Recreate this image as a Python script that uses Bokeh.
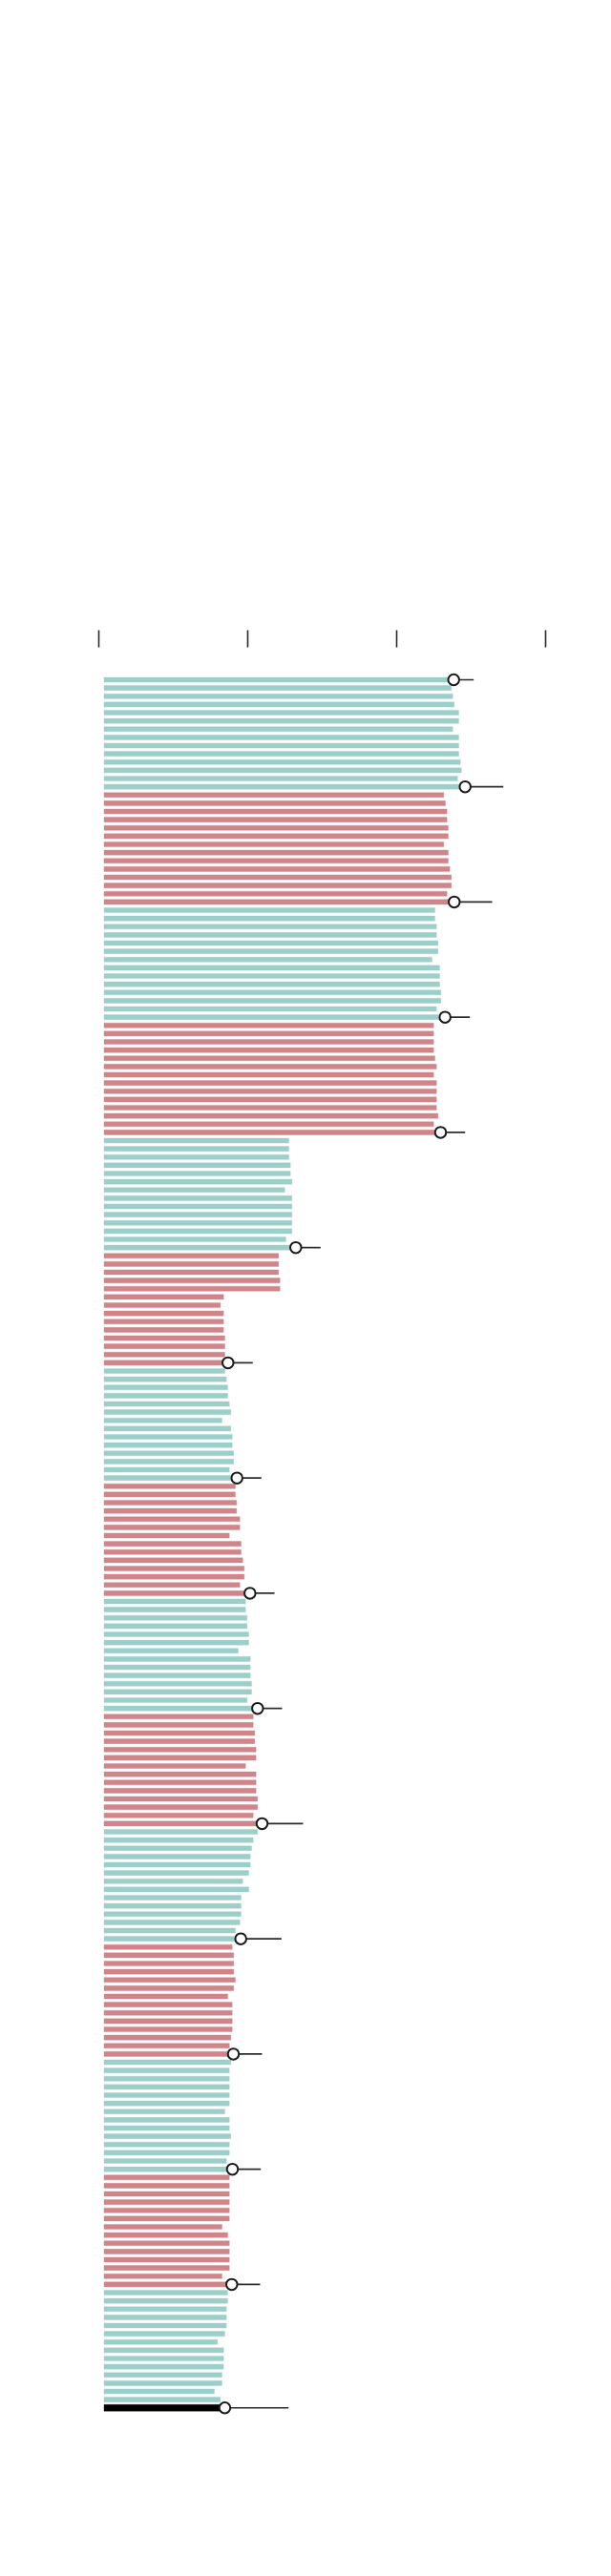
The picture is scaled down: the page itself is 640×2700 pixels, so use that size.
from bokeh.plotting import figure
from bokeh.models import Range1d, LinearAxis, FixedTicker, ColumnDataSource
from bokeh.embed import file_html
from bokeh.resources import INLINE

# ---- data ----
g01 = [58.69, 58.30, 58.53, 58.78, 59.54, 59.54, 58.53, 59.54, 59.54, 59.54, 59.81, 59.97, 59.33, 60.61]
g02 = [57.02, 57.29, 57.56, 57.56, 57.77, 57.77, 57.02, 57.77, 57.77, 58.04, 58.30, 58.30, 57.56, 58.78]
g03 = [55.53, 55.53, 55.80, 55.80, 56.06, 56.06, 55.05, 56.33, 56.33, 56.33, 56.54, 56.54, 55.80, 57.24]
g04 = [55.32, 55.32, 55.32, 55.32, 55.53, 55.80, 55.32, 55.80, 55.80, 55.80, 55.80, 56.06, 55.32, 56.49]
g05 = [31.01, 31.01, 31.01, 31.28, 31.28, 31.54, 30.32, 31.54, 31.54, 31.54, 31.54, 31.54, 30.53, 32.18]
g06 = [29.29, 29.29, 29.29, 29.52, 29.52, 20.06, 19.52, 20.06, 20.06, 20.06, 20.27, 20.27, 20.27, 20.80]
g07 = [20.27, 20.54, 20.75, 20.75, 21.03, 21.28, 19.79, 21.28, 21.51, 21.51, 21.76, 21.76, 21.03, 22.31]
g08 = [22.04, 22.04, 22.24, 22.24, 22.79, 22.79, 21.03, 23.00, 23.00, 23.27, 23.53, 23.53, 22.79, 24.49]
g09 = [23.75, 23.75, 24.01, 24.01, 24.28, 24.28, 22.52, 24.55, 24.55, 24.55, 24.76, 24.76, 24.01, 25.77]
g10 = [25.03, 25.03, 25.29, 25.29, 25.51, 25.51, 23.75, 25.51, 25.51, 25.51, 25.77, 25.77, 25.03, 26.52]
g11 = [25.77, 25.03, 24.76, 24.55, 24.55, 24.28, 23.27, 24.28, 23.00, 23.00, 23.00, 22.79, 22.04, 22.95]
g12 = [21.51, 21.76, 21.76, 21.76, 22.04, 21.76, 20.75, 21.51, 21.51, 21.51, 21.51, 21.28, 21.03, 21.71]
g13 = [21.28, 21.03, 21.03, 21.03, 21.03, 21.03, 20.27, 21.03, 21.03, 21.28, 21.03, 21.03, 20.54, 21.55]
g14 = [21.03, 21.03, 21.03, 21.03, 21.03, 21.03, 19.79, 20.75, 21.03, 21.03, 21.03, 21.03, 19.79, 21.44]
g15 = [20.75, 20.75, 20.54, 20.54, 20.54, 20.27, 19.04, 20.06, 20.06, 20.06, 19.79, 19.79, 18.51, 19.52]
overall_value = 20.27

marker_rows = [0, 13, 27, 41, 55, 69, 83, 97, 111, 125, 139, 153, 167, 181, 195, 210]
marker_upper = [62.05, 67.02, 65.14, 61.41, 60.61, 36.35, 24.97, 26.41, 28.61, 29.89,
                33.41, 29.78, 26.52, 26.31, 26.20, 30.96]

tick_values = [0, 25, 50, 75]

group_colors = ["#9dcfca", "#cf8589"]
overall_color = "#000000"

# ---- build rows ----
groups = [g01, g02, g03, g04, g05, g06, g07, g08, g09, g10, g11, g12, g13, g14, g15]
values, colors, heights = [], [], []
for gi, g in enumerate(groups):
    for v in g:
        values.append(v)
        colors.append(group_colors[gi % 2])
        heights.append(0.6)
values.append(overall_value)
colors.append(overall_color)
heights.append(0.8)
rows = list(range(len(values)))

bars = ColumnDataSource(dict(y=rows, value=values, color=colors, h=heights))
marks = ColumnDataSource(dict(
    y=marker_rows,
    value=[values[r] for r in marker_rows],
    upper=marker_upper,
))

# ---- geometry ----
W, H = 640, 2700
TOP = 678
PX_PER_UNIT_X = 6.24
ZERO_PX = 108.5
AXIS_ZERO_PX = 103.3
ROW_PX = 8.625
FIRST_ROW_PX = 34.0

x0 = -ZERO_PX / PX_PER_UNIT_X
y_top = -FIRST_ROW_PX / ROW_PX
y_bottom = y_top + (H - TOP) / ROW_PX

p = figure(width=W, height=H,
           x_range=Range1d(x0, x0 + W / PX_PER_UNIT_X),
           y_range=Range1d(y_bottom, y_top),
           output_backend="svg", toolbar_location=None,
           x_axis_location=None, y_axis_location=None,
           min_border_top=TOP, min_border_left=0, min_border_right=0, min_border_bottom=0)
p.outline_line_color = None
p.xgrid.visible = False
p.ygrid.visible = False
p.background_fill_color = "white"
p.border_fill_color = "white"

ax0 = -AXIS_ZERO_PX / PX_PER_UNIT_X
p.extra_x_ranges = {"ticks": Range1d(ax0, ax0 + W / PX_PER_UNIT_X)}
axis = LinearAxis(x_range_name="ticks", ticker=FixedTicker(ticks=tick_values),
                  major_tick_out=18, major_tick_in=0,
                  minor_tick_out=0, minor_tick_in=0,
                  axis_line_color=None,
                  major_tick_line_color="#2a2a2a", major_tick_line_width=1.6,
                  major_label_overrides={t: "" for t in tick_values})
p.add_layout(axis, "above")

p.hbar(y="y", left=0, right="value", height="h", fill_color="color",
       line_color="color", line_alpha=0.35, line_width=1, source=bars)
p.segment(x0="value", y0="y", x1="upper", y1="y", line_color="#2a2a2a",
          line_width=1.7, source=marks)
p.scatter(x="value", y="y", size=11.5, fill_color="white", line_color="#1a1a1a",
          line_width=2, source=marks)

open("out.html", "w").write(file_html(p, INLINE))
